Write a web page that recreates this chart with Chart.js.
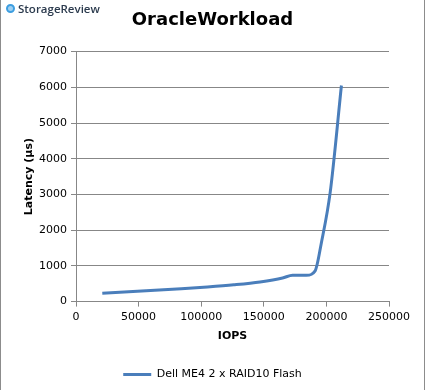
<!DOCTYPE html>
<html>
<head>
<meta charset="utf-8">
<script src="https://cdn.jsdelivr.net/npm/chart.js@4"></script>
<style>
  html, body { margin: 0; padding: 0; background: #fff; }
  #wrap {
    position: relative;
    width: 423px;
    height: 390px;
    border-left: 1px solid #8c8c8c;
    border-right: 1px solid #8c8c8c;
  }
  #logo {
    position: absolute;
    left: 5px;
    top: 1px;
    font-family: "Open Sans", "DejaVu Sans", sans-serif;
    font-size: 11.5px;
    font-weight: 600;
    color: #2b3a4d;
    display: flex;
    align-items: center;
    z-index: 2;
  }
  #logo .dot {
    width: 9px;
    height: 9px;
    border-radius: 50%;
    border: 2px solid #3d9ee0;
    background: #9fd0f2;
    margin-right: 3px;
    box-sizing: border-box;
  }
</style>
</head>
<body>
<div id="wrap">
  <div id="logo"><span class="dot"></span>StorageReview</div>
  <canvas id="chart" width="423" height="390"></canvas>
</div>
<script>
const SERIES_NAME = "Dell ME4 2 x RAID10 Flash";
const IOPS = [21000, 42000, 63000, 84000, 105000, 126000, 147000, 165000, 173000, 184000, 191000, 196000, 203000, 212000];
const LATENCY = [235, 275, 315, 360, 410, 470, 550, 660, 740, 735, 860, 1650, 3050, 6050];
const X_TICKS = [0, 50000, 100000, 150000, 200000, 250000];
const Y_TICKS = [0, 1000, 2000, 3000, 4000, 5000, 6000, 7000];

const FONT = "'DejaVu Sans', Verdana, sans-serif";
const LINE_COLOR = "#4a7ebb";
const GRID_COLOR = "#878787";

const points = IOPS.map((x, i) => ({ x: x, y: LATENCY[i] }));

new Chart(document.getElementById("chart"), {
  type: "line",
  data: {
    datasets: [
      {
        label: SERIES_NAME,
        data: points,
        borderColor: LINE_COLOR,
        backgroundColor: LINE_COLOR,
        borderWidth: 3,
        pointRadius: 0,
        cubicInterpolationMode: "monotone",
        fill: false,
        yAxisID: "y",
      },
    ],
  },
  options: {
    responsive: false,
    animation: false,
    layout: {
      padding: { left: 22, right: 22, top: 8, bottom: 0 },
    },
    plugins: {
      title: {
        display: true,
        text: "OracleWorkload",
        color: "#000",
        font: { family: FONT, size: 18, weight: "bold" },
        padding: { top: 2, bottom: 20 },
      },
      legend: {
        position: "bottom",
        labels: {
          color: "#000",
          font: { family: FONT, size: 11 },
          usePointStyle: true,
          pointStyle: "line",
          pointStyleWidth: 28,
          padding: 10,
        },
      },
      tooltip: { enabled: false },
    },
    scales: {
      x: {
        type: "linear",
        min: X_TICKS[0],
        max: X_TICKS[X_TICKS.length - 1],
        afterBuildTicks: (axis) => {
          axis.ticks = X_TICKS.map((v) => ({ value: v }));
        },
        ticks: {
          color: "#000",
          font: { family: FONT, size: 11 },
          maxRotation: 0,
          padding: 4,
          callback: (v) => String(v),
        },
        grid: {
          drawOnChartArea: false,
          drawTicks: true,
          tickLength: 5,
          color: GRID_COLOR,
        },
        border: { color: GRID_COLOR },
        title: {
          display: true,
          text: "IOPS",
          color: "#000",
          font: { family: FONT, size: 11, weight: "bold" },
          padding: { top: 2, bottom: 16 },
        },
      },
      y: {
        type: "linear",
        position: "left",
        min: Y_TICKS[0],
        max: Y_TICKS[Y_TICKS.length - 1],
        afterBuildTicks: (axis) => {
          axis.ticks = Y_TICKS.map((v) => ({ value: v }));
        },
        afterFit: (axis) => {
          axis.width = 53;
        },
        ticks: {
          color: "#000",
          font: { family: FONT, size: 11 },
          padding: 4,
          callback: (v) => String(v),
        },
        grid: {
          drawOnChartArea: true,
          drawTicks: true,
          tickLength: 5,
          color: GRID_COLOR,
        },
        border: { color: GRID_COLOR },
        title: {
          display: true,
          text: "Latency (µs)",
          color: "#000",
          font: { family: FONT, size: 11, weight: "bold" },
          padding: { top: 0, bottom: 0 },
        },
      },
      yRight: {
        type: "linear",
        position: "right",
        display: true,
        ticks: { display: false },
        grid: { display: false },
        border: { display: false },
        afterFit: (axis) => {
          axis.width = 13;
        },
      },
    },
  },
});
</script>
</body>
</html>
